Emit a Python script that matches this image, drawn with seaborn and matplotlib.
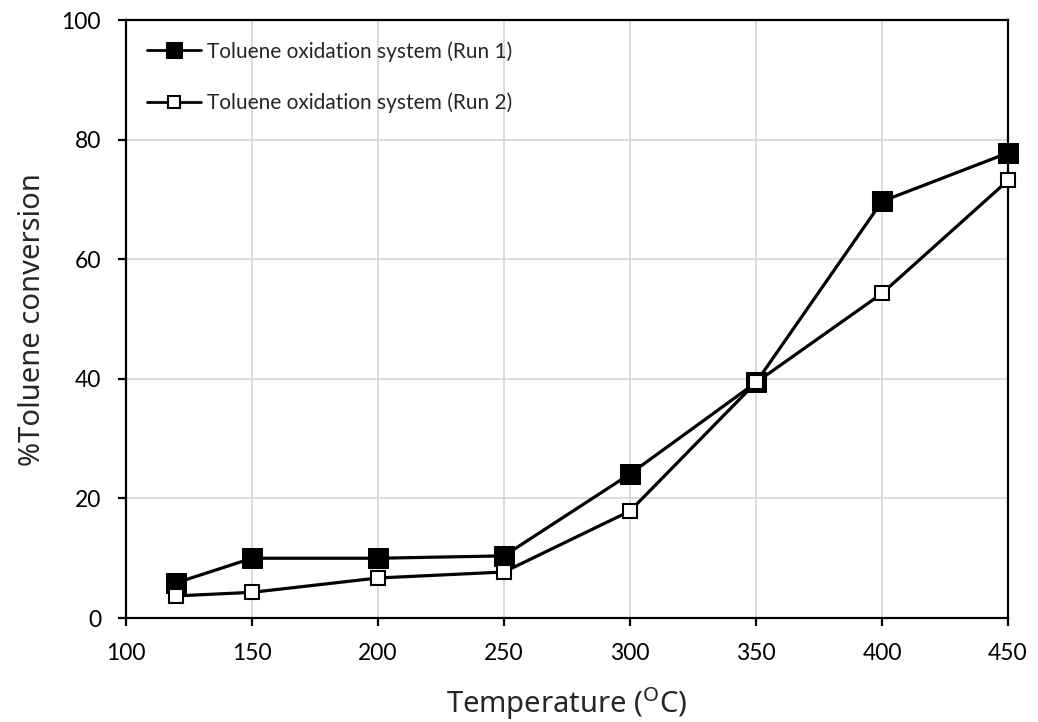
import matplotlib
matplotlib.use("Agg")
import matplotlib.pyplot as plt
import seaborn as sns
import pandas as pd

temperature = [120, 150, 200, 250, 300, 350, 400, 450]
run1 = [5.9, 10.0, 10.0, 10.4, 24.1, 39.4, 69.7, 77.8]
run2 = [3.7, 4.3, 6.7, 7.7, 17.9, 39.4, 54.3, 73.2]
label1 = "Toluene oxidation system (Run 1)"
label2 = "Toluene oxidation system (Run 2)"

sns.set_theme(style="white")
plt.rcParams['font.family'] = ['Lato', 'DejaVu Sans']
plt.rcParams['mathtext.fontset'] = 'custom'
plt.rcParams['mathtext.rm'] = 'Noto Sans'

fig = plt.figure(figsize=(10.38, 7.22), dpi=100)
ax = fig.add_axes([0.1214, 0.144, 0.8497, 0.828])

df1 = pd.DataFrame({"T": temperature, "v": run1})
df2 = pd.DataFrame({"T": temperature, "v": run2})
sns.lineplot(data=df1, x="T", y="v", ax=ax, color="black", linewidth=2.3,
             marker="s", markersize=14, markerfacecolor="black",
             markeredgecolor="black", label=label1, zorder=3, clip_on=False)
sns.lineplot(data=df2, x="T", y="v", ax=ax, color="black", linewidth=2.3,
             marker="s", markersize=9.5, markerfacecolor="white",
             markeredgecolor="black", markeredgewidth=1.5, label=label2,
             zorder=3, clip_on=False)

ax.set_xlim(100, 450)
ax.set_ylim(0, 100)
ax.set_xticks(range(100, 451, 50))
ax.set_yticks(range(0, 101, 20))
ax.grid(True, color="#d9d9d9", linewidth=1.3)
ax.set_axisbelow(True)
for s in ax.spines.values():
    s.set_visible(True)
    s.set_color("black")
    s.set_linewidth(1.6)
ax.tick_params(axis="both", direction="out", length=6, width=1.6,
               colors="black", labelsize=16.5, bottom=True, left=True, pad=12)
ax.set_xlabel(r"Temperature ($^{\mathrm{O}}$C)", fontsize=21, family="Noto Sans")
ax.set_ylabel("%Toluene conversion", fontsize=21, family="Noto Sans")
ax.xaxis.set_label_coords(0.5, -0.112)
ax.yaxis.set_label_coords(-0.09, 0.5)

leg = ax.legend(loc="upper left", frameon=False, fontsize=15,
                bbox_to_anchor=(0.0, 1.0), handlelength=2.6,
                handletextpad=0.3, labelspacing=1.5, borderaxespad=0.4,
                borderpad=0.6)
for h in leg.legend_handles:
    h.set_linewidth(2.0)
leg.legend_handles[0].set_markersize(12)
leg.legend_handles[1].set_markersize(8.5)

fig.savefig("out.png", dpi=100)
